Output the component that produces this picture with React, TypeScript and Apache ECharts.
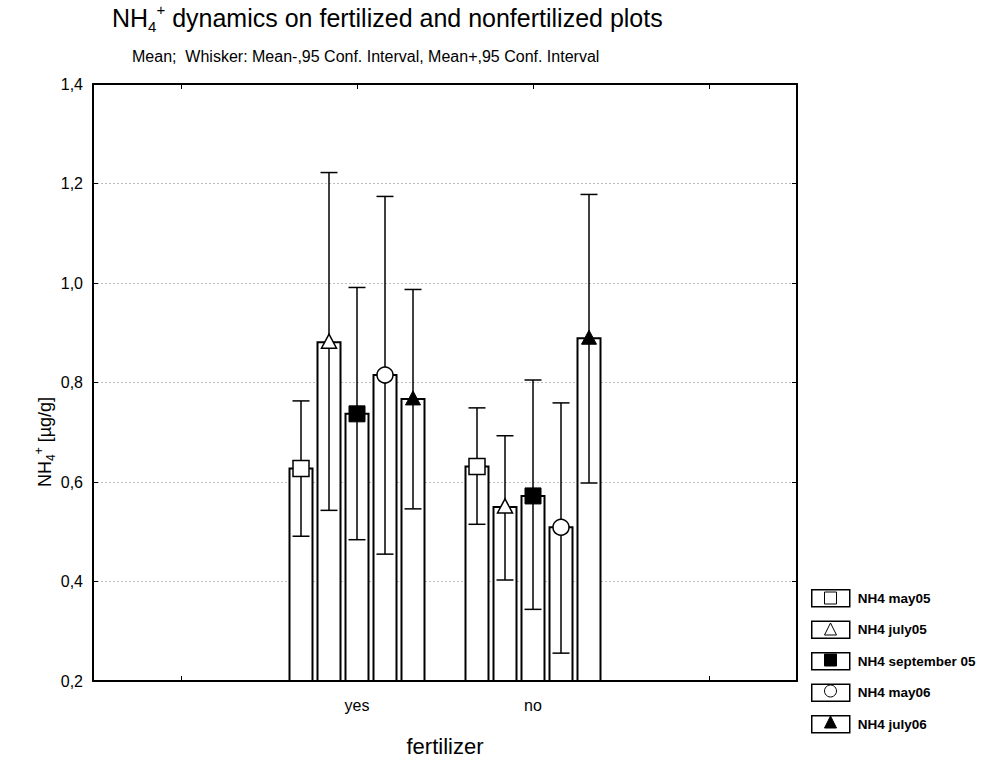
import React, { useEffect, useRef } from 'react';
import * as echarts from 'echarts';

const categories = ['', 'yes', 'no', ''];
const seriesNames = ['NH4 may05', 'NH4 july05', 'NH4 september 05', 'NH4 may06', 'NH4 july06'];
const markerKinds = ['squareOpen', 'triangleOpen', 'squareFilled', 'circleOpen', 'triangleFilled'];
// values per series: [yes, no]
const means = [
  [0.627, 0.631],
  [0.881, 0.550],
  [0.737, 0.572],
  [0.815, 0.509],
  [0.767, 0.889],
];
const lowerCI = [
  [0.491, 0.515],
  [0.543, 0.403],
  [0.484, 0.344],
  [0.455, 0.256],
  [0.546, 0.598],
];
const upperCI = [
  [0.763, 0.749],
  [1.222, 0.693],
  [0.991, 0.805],
  [1.174, 0.759],
  [0.987, 1.178],
];
const groupIndex = [1, 2];
const yMin = 0.2;
const yMax = 1.4;
const yStep = 0.2;

const FONT = '"Liberation Sans", Arial, sans-serif';

function makeRenderItem(k: number) {
  return (params: any, api: any) => {
    const ci = api.value(0);
    const m = api.value(1);
    const lo = api.value(2);
    const hi = api.value(3);
    const band = api.size([1, 0])[0];
    const c = api.coord([ci, m]);
    const step = (band * 28) / 176;
    const bw = (band * 23) / 176;
    const cap = (band * 17) / 176;
    const cx = c[0] + (k - 2) * step;
    const yTop = c[1];
    const yBase = api.coord([ci, yMin])[1];
    const yLo = api.coord([ci, lo])[1];
    const yHi = api.coord([ci, hi])[1];
    const lineStyle = { stroke: '#000', lineWidth: 1.5 };
    const children: any[] = [
      {
        type: 'rect',
        shape: { x: cx - bw / 2, y: yTop, width: bw, height: yBase - yTop },
        style: { fill: '#fff', stroke: '#000', lineWidth: 2 },
      },
      { type: 'line', shape: { x1: cx, y1: yHi, x2: cx, y2: yLo }, style: lineStyle },
      { type: 'line', shape: { x1: cx - cap / 2, y1: yHi, x2: cx + cap / 2, y2: yHi }, style: lineStyle },
      { type: 'line', shape: { x1: cx - cap / 2, y1: yLo, x2: cx + cap / 2, y2: yLo }, style: lineStyle },
    ];
    const kind = markerKinds[k];
    const open = { fill: '#fff', stroke: '#000', lineWidth: 1.5 };
    const filled = { fill: '#000', stroke: '#000', lineWidth: 1 };
    if (kind === 'squareOpen' || kind === 'squareFilled') {
      children.push({
        type: 'rect',
        shape: { x: cx - 8, y: yTop - 8, width: 16, height: 16 },
        style: kind === 'squareOpen' ? open : filled,
      });
    } else if (kind === 'circleOpen') {
      children.push({ type: 'circle', shape: { cx, cy: yTop, r: 8 }, style: open });
    } else {
      children.push({
        type: 'polygon',
        shape: { points: [[cx, yTop - 8], [cx + 7.5, yTop + 6], [cx - 7.5, yTop + 6]] },
        style: kind === 'triangleOpen' ? open : filled,
      });
    }
    return { type: 'group', children };
  };
}

const legendIcons = ['rect', 'triangle', 'rect', 'circle', 'triangle'];
const legendIconFill = ['#fff', '#fff', '#000', '#fff', '#000'];

export default function App() {
  const ref = useRef<HTMLDivElement>(null);
  useEffect(() => {
    if (!ref.current) return;
    const chart = echarts.init(ref.current, undefined, { renderer: 'svg' });
    const series = seriesNames.map((name, k) => ({
      name,
      type: 'custom',
      renderItem: makeRenderItem(k),
      encode: { x: 0, y: 1 },
      data: groupIndex.map((g, j) => [g, means[k][j], lowerCI[k][j], upperCI[k][j]]),
    }));
    const axisLineStyle = { color: '#000', width: 2 };
    const tick = { show: true, inside: true, length: 5, lineStyle: { color: '#000', width: 1 } };
    chart.setOption({
      animation: false,
      backgroundColor: '#fff',
      textStyle: { fontFamily: FONT },
      title: [
        {
          text: '{a|NH}{sub|4}{sup|+}{a| dynamics on fertilized and nonfertilized plots}',
          left: 112,
          top: 2,
          padding: 0,
          textStyle: {
            fontWeight: 'normal',
            rich: {
              a: { fontSize: 25, color: '#000', fontFamily: FONT, fontWeight: 'normal', lineHeight: 32 },
              sub: { fontSize: 15, color: '#000', fontFamily: FONT, fontWeight: 'normal', verticalAlign: 'bottom', lineHeight: 32 },
              sup: { fontSize: 15, color: '#000', fontFamily: FONT, fontWeight: 'normal', verticalAlign: 'top', lineHeight: 32 },
            },
          },
        },
        {
          text: 'Mean;  Whisker: Mean-,95 Conf. Interval, Mean+,95 Conf. Interval',
          left: 132,
          top: 48,
          padding: 0,
          textStyle: { fontSize: 16, color: '#000', fontWeight: 'normal', fontFamily: FONT },
        },
      ],
      grid: { left: 93, right: 187, top: 84, bottom: 83, containLabel: false },
      xAxis: [
        {
          type: 'category',
          data: categories,
          boundaryGap: true,
          axisLine: { show: true, lineStyle: axisLineStyle },
          axisTick: { ...tick, alignWithLabel: true },
          axisLabel: { fontSize: 16, color: '#000', margin: 16, fontFamily: FONT },
          name: 'fertilizer',
          nameLocation: 'middle',
          nameGap: 54,
          nameTextStyle: { fontSize: 22, color: '#000', fontFamily: FONT },
          splitLine: { show: false },
        },
        {
          type: 'category',
          data: categories,
          position: 'top',
          boundaryGap: true,
          axisLine: { show: true, lineStyle: axisLineStyle },
          axisTick: { ...tick, alignWithLabel: true },
          axisLabel: { show: false },
          splitLine: { show: false },
        },
      ],
      yAxis: [
        {
          type: 'value',
          min: yMin,
          max: yMax,
          interval: yStep,
          axisLine: { show: true, lineStyle: axisLineStyle },
          axisTick: tick,
          axisLabel: {
            fontSize: 16,
            color: '#000',
            margin: 10,
            fontFamily: FONT,
            formatter: (v: number) => v.toFixed(1).replace('.', ','),
          },
          splitLine: { show: true, lineStyle: { color: '#bdbdbd', width: 1, type: [2, 2] } },
        },
        {
          type: 'value',
          min: yMin,
          max: yMax,
          interval: yStep,
          position: 'right',
          axisLine: { show: true, lineStyle: axisLineStyle },
          axisTick: tick,
          axisLabel: { show: false },
          splitLine: { show: false },
        },
      ],
      legend: [
        {
          orient: 'vertical',
          left: 811,
          top: 589,
          padding: 0,
          itemWidth: 38,
          itemHeight: 17,
          itemGap: 13,
          selectedMode: false,
          textStyle: { fontSize: 13.5, fontWeight: 'bold', color: '#000', fontFamily: FONT, padding: [0, 0, 0, 3] },
          data: seriesNames.map((name) => ({
            name,
            icon: 'rect',
            itemStyle: { color: '#fff', borderColor: '#000', borderWidth: 1.5 },
          })),
        },
        {
          orient: 'vertical',
          left: 824,
          top: 591.5,
          padding: 0,
          itemWidth: 12,
          itemHeight: 12,
          itemGap: 18,
          selectedMode: false,
          formatter: () => '',
          data: seriesNames.map((name, k) => ({
            name,
            icon: legendIcons[k],
            itemStyle: { color: legendIconFill[k], borderColor: '#000', borderWidth: 1 },
          })),
        },
      ],
      graphic: [
        {
          type: 'text',
          x: 45,
          y: 442,
          rotation: Math.PI / 2,
          style: {
            text: '{a|NH}{sub|4}{sup|+}{a| [µg/g]}',
            textAlign: 'center',
            textVerticalAlign: 'middle',
            rich: {
              a: { fontSize: 18, fill: '#000', fontFamily: FONT, lineHeight: 24 },
              sub: { fontSize: 12, fill: '#000', fontFamily: FONT, verticalAlign: 'bottom', lineHeight: 24 },
              sup: { fontSize: 12, fill: '#000', fontFamily: FONT, verticalAlign: 'top', lineHeight: 24 },
            },
          },
        },
      ],
      series,
    });
    return () => chart.dispose();
  }, []);
  return <div ref={ref} style={{ position: 'fixed', left: 0, top: 0, width: 984, height: 764 }} />;
}
